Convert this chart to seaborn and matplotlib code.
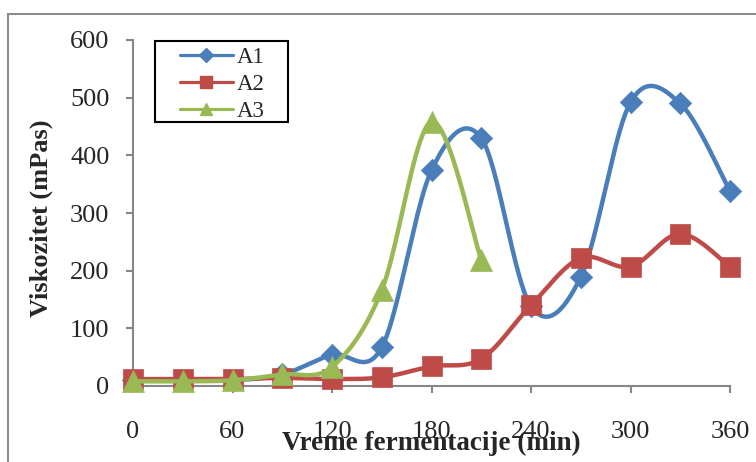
import numpy as np
import pandas as pd
import seaborn as sns
import matplotlib
matplotlib.use("Agg")
import matplotlib.pyplot as plt
from matplotlib.lines import Line2D
from matplotlib.patches import Rectangle

# Fermentation time (min) and viscosity (mPas) for the three samples
time = [0, 30, 60, 90, 120, 150, 180, 210, 240, 270, 300, 330, 360]
a1 = [10, 10, 10, 20, 54, 67, 374, 430, 138, 189, 492, 490, 338]
a2 = [12, 12, 12, 14, 12, 15, 34, 47, 140, 222, 207, 264, 207]
time_a3 = [0, 30, 60, 90, 120, 150, 180, 210]
a3 = [8, 8, 10, 20, 33, 166, 458, 219]

series_names = ["A1", "A2", "A3"]
colors = ["#4A7EBB", "#BE4B48", "#98B954"]
markers = ["D", "s", "^"]
marker_sizes = [130, 215, 250]
legend_marker_sizes = [7, 9, 9]

x_ticks = [0, 60, 120, 180, 240, 300, 360]
y_ticks = [0, 100, 200, 300, 400, 500, 600]


def smooth_curve(x, y, n=40):
    """Catmull-Rom style Bezier smoothing through every point."""
    pts = np.column_stack([np.asarray(x, float), np.asarray(y, float)])
    ext = np.vstack([pts[0], pts, pts[-1]])
    t = np.linspace(0, 1, n)[:, None]
    out = []
    for i in range(len(pts) - 1):
        p0 = pts[i]
        p3 = pts[i + 1]
        c1 = p0 + (ext[i + 2] - ext[i]) / 6.0
        c2 = p3 - (ext[i + 3] - ext[i + 1]) / 6.0
        seg = ((1 - t) ** 3) * p0 + 3 * ((1 - t) ** 2) * t * c1 \
            + 3 * (1 - t) * t ** 2 * c2 + t ** 3 * p3
        out.append(seg if i == 0 else seg[1:])
    out = np.vstack(out)
    return out[:, 0], out[:, 1]


sns.set_style("white")
plt.rcParams["font.family"] = ["Liberation Serif", "DejaVu Serif"]

W, H = 756, 462
fig = plt.figure(figsize=(W / 100, H / 100), dpi=100)
ax = fig.add_axes([133 / W, 76 / H, 597 / W, 346 / H])

data = [(time, a1), (time, a2), (time_a3, a3)]
handles = []
for k, ((xs, ys), name) in enumerate(zip(data, series_names)):
    sx, sy = smooth_curve(xs, ys)
    curve = pd.DataFrame({"t": sx, "v": sy})
    pts = pd.DataFrame({"t": xs, "v": ys})
    sns.lineplot(data=curve, x="t", y="v", sort=False, estimator=None,
                 color=colors[k], linewidth=3.2, ax=ax, zorder=2 + 2 * k,
                 clip_on=False)
    sns.scatterplot(data=pts, x="t", y="v", marker=markers[k],
                    s=marker_sizes[k], color=colors[k],
                    edgecolor=colors[k], linewidth=0.5, ax=ax,
                    zorder=3 + 2 * k, clip_on=False)
    handles.append(Line2D([], [], color=colors[k], lw=2.3,
                          marker=markers[k],
                          markersize=legend_marker_sizes[k],
                          markeredgecolor=colors[k], label=name))

ax.set_xlim(0, 360)
ax.set_ylim(0, 600)
ax.set_xticks(x_ticks)
ax.set_yticks(y_ticks)
ax.set_xlabel("")
ax.set_ylabel("")

for side in ["top", "right"]:
    ax.spines[side].set_visible(False)
for side in ["left", "bottom"]:
    ax.spines[side].set_color("#868686")
    ax.spines[side].set_linewidth(1.5)

ax.tick_params(axis="y", direction="out", length=5, width=1.5,
               color="#868686", labelsize=19, pad=12, left=True)
ax.tick_params(axis="x", direction="out", length=5, width=1.5,
               color="#868686", labelsize=19, pad=20, bottom=True)

fig.text(41 / W, 1 - 218 / H, "Viskozitet (mPas)", rotation=90,
         ha="center", va="center", fontsize=19, fontweight="bold")
fig.text(431 / W, 1 - 443 / H, "Vreme fermentacije (min)",
         ha="center", va="center", fontsize=19.5, fontweight="bold")

# legend entries, with a separately drawn box around them
leg = fig.legend(handles=handles, loc="upper left",
                 bbox_to_anchor=(180 / W, 1 - 47 / H),
                 fontsize=16.5, frameon=False,
                 handlelength=2.3, handletextpad=0.18, labelspacing=0.26,
                 borderpad=0, borderaxespad=0)
fig.patches.append(Rectangle((155 / W, 1 - 122 / H), 133 / W, 81 / H,
                             transform=fig.transFigure, fill=False,
                             edgecolor="black", linewidth=1.5, zorder=10))

# chart area border
fig.patches.append(Rectangle((8 / W, -0.2), 1.2, 1.2 - 14 / H,
                             transform=fig.transFigure, fill=False,
                             edgecolor="#8C8C8C", linewidth=1.5))

fig.savefig("out.png", dpi=100)
